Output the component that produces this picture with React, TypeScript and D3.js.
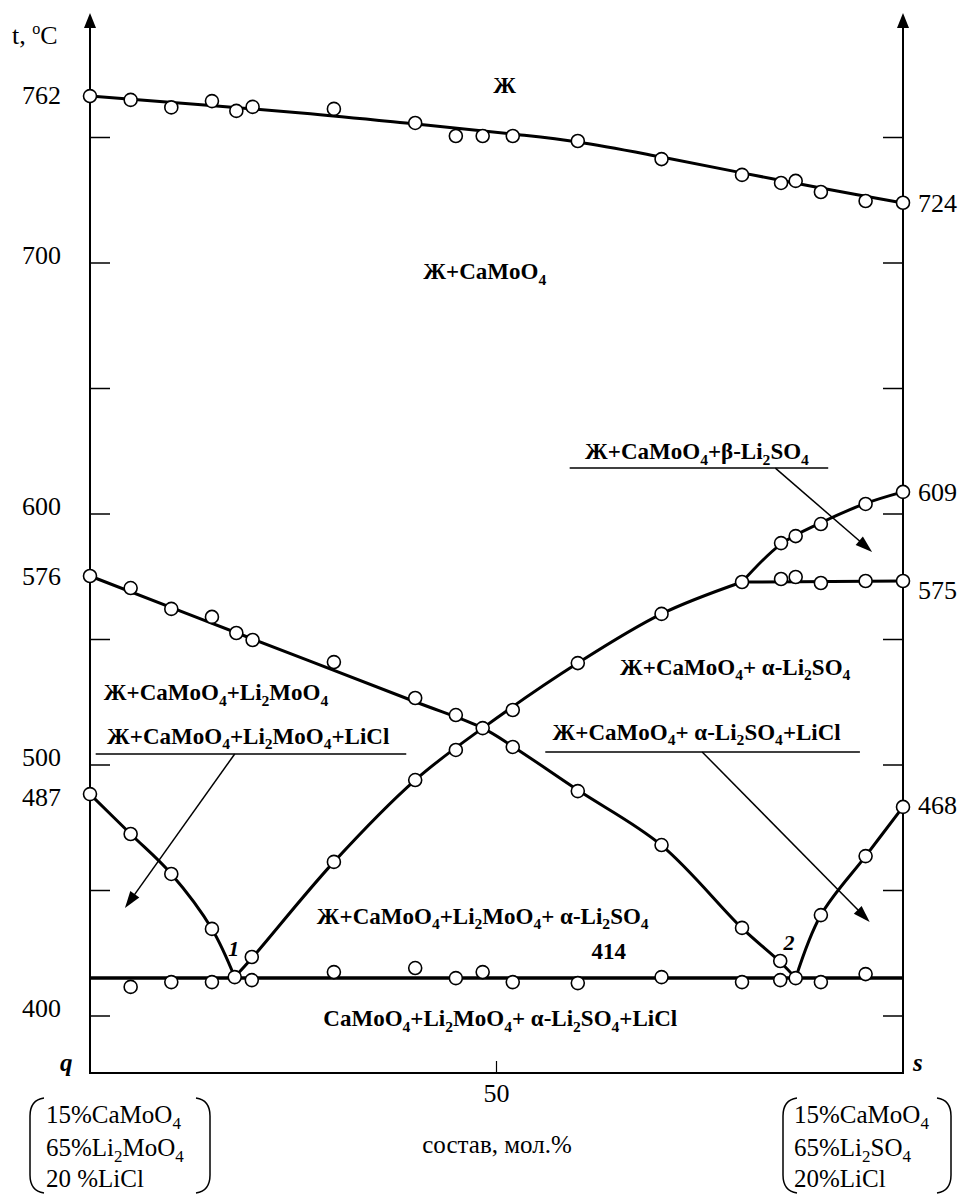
import { scaleLinear, line, curveCatmullRom } from 'd3'

// x: composition, mol.% (q = 0, s = 100); t: temperature, °C
const tTicks = [400, 450, 500, 550, 600, 650, 700, 750]
const tTickLabels = [400, 500, 600, 700]
const xTickLabels = [50]

const leftValueLabels = [
  { text: '762', t: 766.9 },
  { text: '576', t: 575.3 },
  { text: '487', t: 487.2 },
]
const rightValueLabels = [
  { text: '724', t: 723.9 },
  { text: '609', t: 608.8 },
  { text: '575', t: 569.7 },
  { text: '468', t: 484.1 },
]

// liquidus (CaMoO4 primary crystallisation)
const liquidusPoints = [
  [0, 766.5], [5, 765], [10, 762], [15, 764.5], [18, 760.6], [20, 762.2], [30, 761.4],
  [40, 755.8], [45, 750.6], [48.3, 750.6], [52, 750.6], [60, 748.6], [70.3, 741.4],
  [80.2, 735.1], [85, 731.9], [86.8, 732.7], [89.9, 728.3], [95.4, 724.7], [100, 724],
]
const liquidusLine = [
  [0, 766.5], [26, 759.8], [40, 755.4], [52, 751.4], [60, 748.2], [70.3, 742.2],
  [80.2, 735.9], [89.9, 729.9], [100, 723.9],
]

// Li2MoO4 crystallisation curve
const li2moo4Points = [
  [0, 575.3], [5, 570.5], [10, 562.2], [15, 559], [18, 552.6], [20, 549.8], [30, 541],
  [40, 526.7], [45, 519.9], [48.3, 514.7], [52, 507.2], [60, 489.6], [70.3, 468.1],
  [80.2, 435.1], [84.9, 421.9],
]
const li2moo4Line = [
  [0, 575.3], [20, 550.2], [40, 525.2], [48.3, 514.7], [52, 507.4], [60, 490],
  [70.3, 468], [80.2, 435], [84.9, 421.5], [86.8, 415.1],
]

// alpha-Li2SO4 crystallisation curve
const li2so4Points = [
  [19.9, 423.5], [30, 461.4], [40, 494], [45, 506], [52, 521.9], [60, 540.6],
  [70.3, 560.2], [80.2, 572.9],
]
const li2so4Line = [
  [17.8, 415.5], [19.9, 423], [30, 461.4], [40, 494], [48.3, 514.7], [60, 540.6],
  [70.3, 560.2], [80.2, 572.9],
]

// beta-Li2SO4 curve
const betaPoints = [[85, 588.4], [86.8, 591.2], [89.9, 596], [95.4, 604], [100, 608.8]]
const betaLine = [[80.2, 572.9], [85, 588], [89.9, 596.5], [95.4, 604.2], [100, 608.8]]

// polymorphic transition of Li2SO4
const transitionPoints = [[85, 574.1], [86.8, 574.9], [89.9, 572.5], [95.4, 573.3], [100, 573.3]]
const transitionLine = [[80.2, 572.9], [100, 573.3]]

// LiCl branches
const leftLiClPoints = [[0, 488.4], [5, 472.5], [10, 456.6], [15, 434.7]]
const leftLiClLine = [[0, 488.4], [5, 472.5], [10, 456.6], [15, 434.7], [17.8, 415.5]]
const rightLiClPoints = [[89.9, 440.2], [95.4, 463.7], [100, 483.3]]
const rightLiClLine = [[86.8, 415.1], [89.9, 440.2], [95.4, 463.7], [100, 483.3]]

// quaternary eutectic 414
const eutecticPoints = [
  [5, 411.6], [10, 413.5], [15, 413.5], [17.8, 415.5], [19.9, 414.3], [30, 417.5],
  [40, 419.1], [45, 415.1], [48.3, 417.5], [52, 413.5], [60, 413.1], [70.3, 415.5],
  [80.2, 413.5], [84.9, 414.3], [86.8, 415.1], [89.9, 413.5], [95.4, 416.7],
]
const eutecticLine = [[0, 415.1], [100, 415.1]]

const phaseLabels = [
  'Ж',
  'Ж+CaMoO_4',
  'Ж+CaMoO_4+β-Li_2SO_4',
  'Ж+CaMoO_4+ α-Li_2SO_4',
  'Ж+CaMoO_4+ α-Li_2SO_4+LiCl',
  'Ж+CaMoO_4+Li_2MoO_4',
  'Ж+CaMoO_4+Li_2MoO_4+LiCl',
  'Ж+CaMoO_4+Li_2MoO_4+ α-Li_2SO_4',
  '414',
  'CaMoO_4+Li_2MoO_4+ α-Li_2SO_4+LiCl',
]
// anchor of each label (x %, t °C), start of text on baseline
const phaseLabelAt = [
  [51, 767.7], [41, 693.6], [60.9, 621.9], [65.2, 535.9], [56.9, 510], [1.7, 525.9],
  [2.1, 508.4], [27.9, 436.7], [61.7, 422.7], [28.7, 396],
]

const pointNames = ['1', '2']
const pointNameAt = [[17, 423.9], [85.3, 426.3]]

// leader lines: underline x0..x1 at t, then arrow from (ax, t) to tip
const leaders = [
  { x0: 59, x1: 90.8, t: 618.3, ax: 84.3, tipX: 96.2, tipT: 584.9 },
  { x0: 56, x1: 94.7, t: 505.2, ax: 75.3, tipX: 95.9, tipT: 437.5 },
  { x0: 0.7, x1: 38.9, t: 504.4, ax: 17.8, tipX: 4.3, tipT: 443 },
]

const qMix = ['15%CaMoO_4', '65%Li_2MoO_4', '20 %LiCl']
const sMix = ['15%CaMoO_4', '65%Li_2SO_4', '20%LiCl']

const serif = "'Liberation Serif', 'Times New Roman', serif"

const x = scaleLinear().domain([0, 100]).range([90, 903])
const y = scaleLinear().domain([400, 700]).range([1016, 263])

const path = line<number[]>()
  .x((d) => x(d[0]))
  .y((d) => y(d[1]))
  .curve(curveCatmullRom.alpha(0.5))

function rich(s: string, fs: number) {
  const parts = s.split(/(_\d|\^\w)/).filter((p) => p !== '')
  let shift = 0
  return parts.map((p, i) => {
    let target = 0
    let content = p
    let size: number | undefined
    if (p.length === 2 && p[0] === '_') {
      target = fs * 0.24
      content = p[1]
      size = fs * 0.68
    } else if (p.length === 2 && p[0] === '^') {
      target = -fs * 0.38
      content = p[1]
      size = fs * 0.62
    }
    const dy = target - shift
    shift = target
    return (
      <tspan key={i} dy={dy || undefined} fontSize={size}>
        {content}
      </tspan>
    )
  })
}

function head(x0: number, y0: number, x1: number, y1: number, len = 17, hw = 5.5) {
  const a = Math.atan2(y1 - y0, x1 - x0)
  const bx = x1 - len * Math.cos(a)
  const by = y1 - len * Math.sin(a)
  const px = -Math.sin(a) * hw
  const py = Math.cos(a) * hw
  return `${x1},${y1} ${bx + px},${by + py} ${bx - px},${by - py}`
}

function paren(px: number, top: number, bottom: number, dir: number) {
  const c = px + dir * 14
  return `M${c},${top} Q${px},${top + 2} ${px},${top + 18} L${px},${bottom - 18} Q${px},${bottom - 2} ${c},${bottom}`
}

const curves = [liquidusLine, li2moo4Line, li2so4Line, betaLine, transitionLine, leftLiClLine, rightLiClLine]
const pointSets = [
  liquidusPoints, li2moo4Points, li2so4Points, betaPoints, transitionPoints,
  leftLiClPoints, rightLiClPoints, eutecticPoints,
]

export default function App() {
  const axisBottom = 1073
  const axisTop = 13
  const xl = x(0)
  const xr = x(100)
  const labelSize = 23
  const numSize = 26
  return (
    <svg width={958} height={1195} style={{ display: 'block', position: 'absolute', left: 0, top: 0, background: '#fff' }}>
      <g fontFamily={serif} fill="#000">
        {/* axes */}
        <line x1={xl} y1={axisBottom} x2={xl} y2={axisTop + 12} stroke="#000" strokeWidth={2} />
        <line x1={xr} y1={axisBottom} x2={xr} y2={axisTop + 12} stroke="#000" strokeWidth={2} />
        <line x1={xl - 1} y1={axisBottom} x2={xr + 1} y2={axisBottom} stroke="#000" strokeWidth={2} />
        <polygon points={head(xl, 100, xl, axisTop, 15, 6)} />
        <polygon points={head(xr, 100, xr, axisTop, 15, 6)} />
        {tTicks.map((t) => (
          <g key={t}>
            <line x1={xl} x2={xl + 20} y1={y(t)} y2={y(t)} stroke="#000" strokeWidth={1.5} />
            <line x1={xr - 20} x2={xr} y1={y(t)} y2={y(t)} stroke="#000" strokeWidth={1.5} />
          </g>
        ))}
        {tTickLabels.map((t) => (
          <text key={t} x={61} y={y(t) + 1} fontSize={numSize} textAnchor="end">
            {t}
          </text>
        ))}
        {leftValueLabels.map((d) => (
          <text key={d.text} x={61} y={y(d.t) + 9} fontSize={numSize} textAnchor="end">
            {d.text}
          </text>
        ))}
        {rightValueLabels.map((d) => (
          <text key={d.text} x={918} y={y(d.t) + 9} fontSize={numSize}>
            {d.text}
          </text>
        ))}
        {xTickLabels.map((v) => (
          <g key={v}>
            <line x1={x(v)} x2={x(v)} y1={axisBottom} y2={axisBottom - 12} stroke="#000" strokeWidth={1.2} />
            <text x={x(v)} y={1102} fontSize={numSize} textAnchor="middle">
              {v}
            </text>
          </g>
        ))}
        <text x={12} y={44} fontSize={numSize}>
          {rich('t, ^oC', numSize)}
        </text>
        <text x={60} y={1071} fontSize={25} fontWeight="bold" fontStyle="italic">
          q
        </text>
        <text x={913} y={1071} fontSize={25} fontWeight="bold" fontStyle="italic">
          s
        </text>
        <text x={497} y={1153} fontSize={25} textAnchor="middle">
          состав, мол.%
        </text>

        {/* composition brackets */}
        {[
          { lines: qMix, tx: 46, lp: 30, rp: 210 },
          { lines: sMix, tx: 794, lp: 783, rp: 951 },
        ].map((g, gi) => (
          <g key={gi}>
            <path d={paren(g.lp, 1098, 1193, 1)} fill="none" stroke="#000" strokeWidth={1.5} />
            <path d={paren(g.rp, 1098, 1193, -1)} fill="none" stroke="#000" strokeWidth={1.5} />
            {g.lines.map((s, i) => (
              <text key={i} x={g.tx} y={[1123, 1156, 1187][i]} fontSize={25}>
                {rich(s, 25)}
              </text>
            ))}
          </g>
        ))}

        {/* phase boundaries */}
        {curves.map((c, i) => (
          <path key={i} d={path(c) ?? ''} fill="none" stroke="#000" strokeWidth={3} strokeLinejoin="round" />
        ))}
        <path d={path(eutecticLine) ?? ''} fill="none" stroke="#000" strokeWidth={3.5} />

        {/* leaders */}
        {leaders.map((l, i) => {
          const ax = x(l.ax)
          const ay = y(l.t)
          const tx = x(l.tipX)
          const ty = y(l.tipT)
          return (
            <g key={i}>
              <line x1={x(l.x0)} x2={x(l.x1)} y1={ay} y2={ay} stroke="#000" strokeWidth={1.5} />
              <line x1={ax} y1={ay} x2={tx - (tx - ax) * 0.04} y2={ty - (ty - ay) * 0.04} stroke="#000" strokeWidth={1.5} />
              <polygon points={head(ax, ay, tx, ty)} />
            </g>
          )
        })}

        {/* experimental points */}
        {pointSets.map((set, si) =>
          set.map((d, i) => (
            <circle key={`${si}-${i}`} cx={x(d[0])} cy={y(d[1])} r={6.5} fill="#fff" stroke="#000" strokeWidth={1.6} />
          )),
        )}

        {/* phase field labels */}
        {phaseLabels.map((s, i) => (
          <text
            key={i}
            x={x(phaseLabelAt[i][0])}
            y={y(phaseLabelAt[i][1])}
            fontSize={labelSize}
            fontWeight="bold"
            textAnchor={i === 0 ? 'middle' : 'start'}
          >
            {rich(s, labelSize)}
          </text>
        ))}
        {pointNames.map((s, i) => (
          <text
            key={s}
            x={x(pointNameAt[i][0])}
            y={y(pointNameAt[i][1])}
            fontSize={22}
            fontWeight="bold"
            fontStyle="italic"
          >
            {s}
          </text>
        ))}
      </g>
    </svg>
  )
}
